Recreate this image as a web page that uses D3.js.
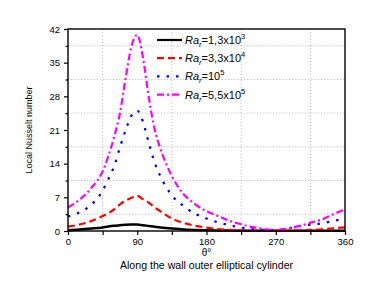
<!DOCTYPE html>
<html><head><meta charset="utf-8">
<script src="https://cdn.jsdelivr.net/npm/d3@7/dist/d3.min.js"></script>
<style>body{margin:0;background:#fff}svg{display:block;font-family:"Liberation Sans",Arial,sans-serif}</style>
</head><body><svg id="c" width="388" height="290"></svg>
<script>
const theta = [0,15,30,45,52.5,60,67.5,75,82.5,90,97.5,105,112.5,120,135,150,165,180,195,210,225,240,255,270,285,300,315,330,345,360];
const ra13e3 = [0.15,0.3,0.5,0.75,0.95,1.1,1.2,1.3,1.35,1.35,1.2,1.05,0.9,0.75,0.5,0.3,0.2,0.15,0.1,0.08,0.06,0.05,0.05,0.05,0.05,0.05,0.05,0.05,0.05,0.05];
const ra33e4 = [0.9,1.35,2.05,3.1,3.7,4.5,5.55,6.3,6.9,7.3,6.6,5.9,4.9,4.1,2.6,1.7,1.1,0.7,0.4,0.25,0.15,0.1,0.08,0.05,0.1,0.15,0.25,0.35,0.55,0.75];
const ra1e5 = [3.0,3.9,5.4,8.4,10.8,13.5,17.4,21.0,24.0,25.0,22.7,18.3,14.3,11.4,7.4,5.2,3.6,2.6,1.8,1.2,0.7,0.4,0.25,0.2,0.5,1.0,1.3,1.6,2.1,2.6];
const ra55e5 = [4.9,6.5,8.9,12.4,15.6,19.6,24.5,31.9,38.4,40.8,36.0,27.8,21.2,17.2,11.4,7.7,5.6,4.1,3.1,2.1,1.4,0.8,0.4,0.2,0.5,1.0,1.7,2.4,3.5,4.5];
const xTicks = [0,90,180,270,360];
const yTicks = [0,7,14,21,28,35,42];
const series = [
  {base:"1,3x10", exp:"3", values:ra13e3, color:"#000000", dash:null},
  {base:"3,3x10", exp:"4", values:ra33e4, color:"#ff0000", dash:"7,4"},
  {base:"10", exp:"5", values:ra1e5, color:"#0000ff", dash:"2.5,7"},
  {base:"5,5x10", exp:"5", values:ra55e5, color:"#ff00ff", dash:"7,3,2,3"}
];

const svg = d3.select("#c");
const L=68, R=345, T=29, B=231;
const x = d3.scaleLinear().domain([0,360]).range([L,R]);
const y = d3.scaleLinear().domain([0,42]).range([B,T]);

// grid at minor ticks
const g = svg.append("g");
d3.range(45,360,90).forEach(v=>g.append("line").attr("x1",x(v)).attr("x2",x(v)).attr("y1",T).attr("y2",B)
  .attr("stroke","#bdbdbd").attr("stroke-width",1).attr("stroke-dasharray","1.2,2"));
d3.range(3.5,42,7).forEach(v=>g.append("line").attr("x1",L).attr("x2",R).attr("y1",y(v)).attr("y2",y(v))
  .attr("stroke","#bdbdbd").attr("stroke-width",1).attr("stroke-dasharray","1.2,2"));

// curves
const line = d3.line().x((d,i)=>x(theta[i])).y(d=>y(d)).curve(d3.curveMonotoneX);
series.forEach((s,i)=>{
  svg.append("path").datum(s.values).attr("d",line).attr("fill","none")
    .attr("stroke",s.color).attr("stroke-width",i===0?2.5:2.2)
    .attr("stroke-dasharray",s.dash);
});

// axes
const xAx = svg.append("g").attr("transform",`translate(0,${B})`)
  .call(d3.axisBottom(x).tickValues(d3.range(0,361,45)).tickSize(4).tickFormat(d=>xTicks.includes(d)?d:""));
const yAx = svg.append("g").attr("transform",`translate(${L},0)`)
  .call(d3.axisLeft(y).tickValues(d3.range(0,42.1,3.5)).tickSize(4).tickFormat(d=>yTicks.includes(d)?d:""));
[xAx,yAx].forEach(a=>{
  a.select(".domain").remove();
  a.selectAll(".tick line").attr("stroke","#000").attr("stroke-width",1.2);
  a.selectAll("text").attr("font-size","9.5px").attr("fill","#000").attr("font-family","Liberation Sans, Arial, sans-serif");
});
yAx.selectAll(".tick").filter(d=>!yTicks.includes(d)).select("line").attr("x2",-2.5);
yAx.selectAll("text").attr("dx","-0.1em");

// frame
svg.append("rect").attr("x",L).attr("y",T).attr("width",R-L).attr("height",B-T)
  .attr("fill","none").attr("stroke","#000").attr("stroke-width",1.4);

// axis titles
svg.append("text").attr("x",x(180)).attr("y",255.5).attr("text-anchor","middle")
  .attr("font-size","10px").text("θ°");
svg.append("text").attr("x",x(180)).attr("y",269).attr("text-anchor","middle")
  .attr("font-size","10.6px").text("Along the wall outer elliptical cylinder");
svg.append("text").attr("transform",`translate(32,${(T+B)/2}) rotate(-90)`).attr("text-anchor","middle")
  .attr("font-size","9px").text("Local Nusselt number");

// legend
const leg = svg.append("g");
series.forEach((s,i)=>{
  const yy = 40 + i*18.2;
  leg.append("line").attr("x1",157).attr("x2",182).attr("y1",yy).attr("y2",yy)
    .attr("stroke",s.color).attr("stroke-width",2.2).attr("stroke-dasharray",s.dash);
  const t = leg.append("text").attr("x",185).attr("y",yy+4).attr("font-size","11px");
  t.append("tspan").attr("font-style","italic").text("Ra");
  t.append("tspan").attr("font-style","italic").attr("font-size","7.5px").attr("dy",3).text("r");
  t.append("tspan").attr("dy",-3).text("="+s.base);
  t.append("tspan").attr("font-size","7.5px").attr("dy",-5).text(s.exp);
});
</script></body></html>
